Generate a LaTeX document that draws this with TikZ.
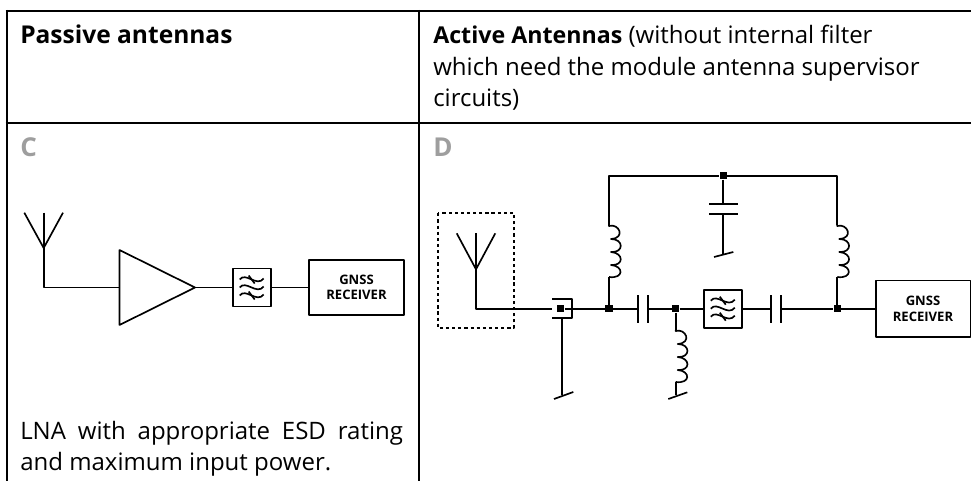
\documentclass[tikz,border=0pt]{standalone}
\usepackage{fontspec}
\setmainfont{Open Sans}
\usepackage{tikz}
\usetikzlibrary{arrows}

\tikzset{
   rule/.style={line width=1.5pt},
   wire/.style={line width=1.25pt,line join=round},
   junction/.style={fill=black,inner sep=0pt,minimum size=5.4pt},
   unit/.style={draw,wire,fill=white,inner sep=0pt},
   label/.style={inner sep=0pt,font=\fontsize{18}{23.6}\selectfont,align=left},
   tag/.style={inner sep=0pt,text=black!38,font=\fontsize{19.5}{20}\selectfont\bfseries},
   gnss/.style={inner sep=0pt,font=\fontsize{9.8}{11.6}\selectfont\bfseries,align=center},
   coil/.pic={
      \draw[wire] (0,0) -- (0,1)
         .. controls (10,-2) and (17,13) .. (2,14)
         .. controls (15,14) and (15,28) .. (2,27)
         .. controls (15,28) and (15,41) .. (2,40)
         .. controls (15,41) and (15,54) .. (0,52);
   },
   waves/.pic={
      \foreach \y in {-8,0,8} {
         \draw[wire] (-12,\y) .. controls (-6,\y-8) and (5,\y+8) .. (12,\y-1);
      }
      \draw[wire] (-3,-12) -- (3,-4);
      \draw[wire] (-3,4) -- (3,12);
   }
}

\begin{document}
\begin{tikzpicture}
   [x=0.75pt,y=-0.75pt]
   \useasboundingbox (0,0) rectangle (971,481);

   \draw[rule] (5.5,11) -- (971,11);
   \draw[rule] (5.5,123.5) -- (971,123.5);
   \draw[rule] (6.5,10) -- (6.5,481);
   \draw[rule] (418.5,10) -- (418.5,481);

   \node[label,anchor=base west,font=\fontsize{18.4}{23.6}\selectfont\bfseries] (passive) at (20,43.5) {Passive antennas};
   \node[label,anchor=north west] (active) at (433,25) {{\fontsize{17.4}{23.6}\selectfont\bfseries Active Antennas} (without internal filter\\which need the module antenna supervisor\\circuits)};
   \node[tag,anchor=base west] (tagc) at (20,156.5) {C};
   \node[tag,anchor=base west] (tagd) at (433,156.5) {D};
   \node[label,anchor=north west,text width=287pt,align=justify] (lna) at (20,421) {LNA with appropriate ESD rating\linebreak and maximum input power.};

   % passive side
   \coordinate (ctip) at (43.7,248);
   \coordinate (cbend) at (43.7,287.5);
   \node[unit,minimum size=28.5pt] (cfilter) at (251.7,287.5) {};
   \pic at (cfilter.center) {waves};
   \node[unit,minimum width=71pt,minimum height=41.5pt,gnss] (crx) at (356.5,287.5) {GNSS\\RECEIVER};
   \coordinate (cin) at (119.5,287.5);
   \coordinate (cout) at (195,287.5);
   \draw[wire] (24.3,212.7) -- (ctip) -- (63,212.7);
   \draw[wire] (43.7,212.7) -- (ctip) -- (cbend) -- (cin);
   \draw[wire] (119.5,250) -- (cout) -- (119.5,325) -- cycle;
   \draw[wire] (cout) -- (cfilter) -- (crx);

   % active side
   \coordinate (dtip) at (476,269.3);
   \coordinate (dbend) at (476,308.7);
   \coordinate (shieldin) at (551.7,308.7);
   \coordinate (shieldgnd) at (561.7,318.3);
   \coordinate (gnda) at (561.7,395);
   \coordinate (captop) at (723.3,214);
   \coordinate (gndb) at (723.3,254.5);
   \coordinate (gndc) at (675.7,395);
   \node[junction] (jbias) at (609,308.7) {};
   \node[junction] (jmid) at (675.7,308.7) {};
   \node[junction] (jout) at (837.3,308.7) {};
   \node[junction] (jtop) at (723.3,175.7) {};
   \node[junction] (jshield) at (560.7,308.7) {};
   \node[unit,minimum size=28.5pt] (dfilter) at (722.8,308.7) {};
   \pic at (dfilter.center) {waves};
   \node[unit,minimum width=71pt,minimum height=42.5pt,gnss] (drx) at (923,308.7) {GNSS\\RECEIVER};

   \draw[wire,dash pattern=on 2.4pt off 2.2pt] (437.7,213.3) rectangle (514.3,327.7);
   \draw[wire] (456.7,233.3) -- (dtip) -- (495.3,233.3);
   \draw[wire] (476,233.3) -- (dtip) -- (dbend) -- (shieldin);
   \draw[wire] (552,299) -- (571.7,299) -- (571.7,318.3) -- (552,318.3);
   \draw[wire] (jshield) -- (jbias) -- (637.7,308.7);
   \draw[wire] (shieldgnd) -- (gnda);
   \draw[wire] (554,399) -- (573.3,392);

   \draw[wire] (637.7,295) -- (637.7,323.3);
   \draw[wire] (647.7,295) -- (647.7,323.3);
   \draw[wire] (647.7,308.7) -- (jmid) -- (dfilter);
   \draw[wire] (dfilter) -- (770.7,308.7);
   \draw[wire] (770.7,295) -- (770.7,323.3);
   \draw[wire] (781,295) -- (781,323.3);
   \draw[wire] (781,308.7) -- (jout) -- (drx);

   \draw[wire] (jbias) -- (609,276.7);
   \pic at (609,225) {coil};
   \draw[wire] (609,225) -- (609,175.7) -- (jtop) -- (837.3,175.7) -- (837.3,225);
   \pic at (837.3,225) {coil};
   \draw[wire] (837.3,276.7) -- (jout);

   \draw[wire] (jtop) -- (723.3,204.3);
   \draw[wire] (709.3,204.3) -- (737.7,204.3);
   \draw[wire] (709.3,214) -- (737.7,214);
   \draw[wire] (captop) -- (gndb);
   \draw[wire] (714,257) -- (733.3,252);

   \draw[wire] (jmid) -- (675.7,330);
   \pic at (675.7,330) {coil};
   \draw[wire] (675.7,381.7) -- (gndc);
   \draw[wire] (668.3,399) -- (687.3,392.3);
\end{tikzpicture}
\end{document}
